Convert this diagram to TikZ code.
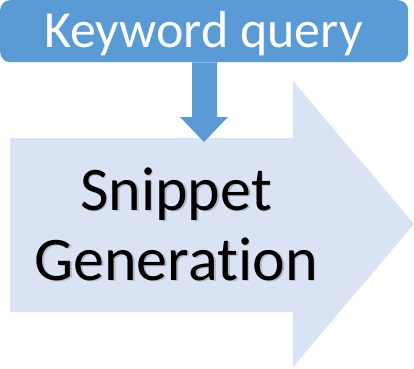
\documentclass[tikz,border=0pt]{standalone}
\usepackage{fontspec}
\setmainfont[Ligatures={NoCommon,NoContextual}]{Carlito}
\definecolor{qblue}{HTML}{5B9BD5}
\definecolor{palearrow}{HTML}{DAE3F3}
\begin{document}
\begin{tikzpicture}[x=1pt,y=-1pt,
  querybox/.style={fill=qblue, rounded corners=10pt, inner sep=0pt,
    minimum width=408pt, minimum height=62pt},
  querytext/.style={text=white, font=\fontsize{52}{52}\selectfont, inner sep=0pt},
  bigtext/.style={align=center, font=\fontsize{62}{70}\selectfont, inner sep=0pt}]
\useasboundingbox (0,0) rectangle (414,368);
% large process arrow
\fill[palearrow] (10,138) -- (293,138) -- (293,81) -- (414,224) -- (293,367)
  -- (293,312) -- (10,312) -- cycle;
\coordinate (gen top) at (204,142);
% query box and its label
\node[querybox, anchor=north west] (kq) at (0,0) {};
\node[querytext, anchor=base] (kqtext) at (203.5,47) {Keyword query};
% thick down arrow from the query into the process
\fill[qblue] (kq.south -| 192,0) -- (192,117) -- (180,117) -- (gen top)
  -- (228,117) -- (217,117) -- (kq.south -| 217,0) -- cycle;
% label with soft shadow (base anchor sits on the last line)
\node[bigtext, text=black!50, opacity=0.4, anchor=base] (genshadow) at (177.8,281.8) {Snippet\\Generation};
\node[bigtext, anchor=base] (gen) at (176,280) {Snippet\\Generation};
\end{tikzpicture}
\end{document}
